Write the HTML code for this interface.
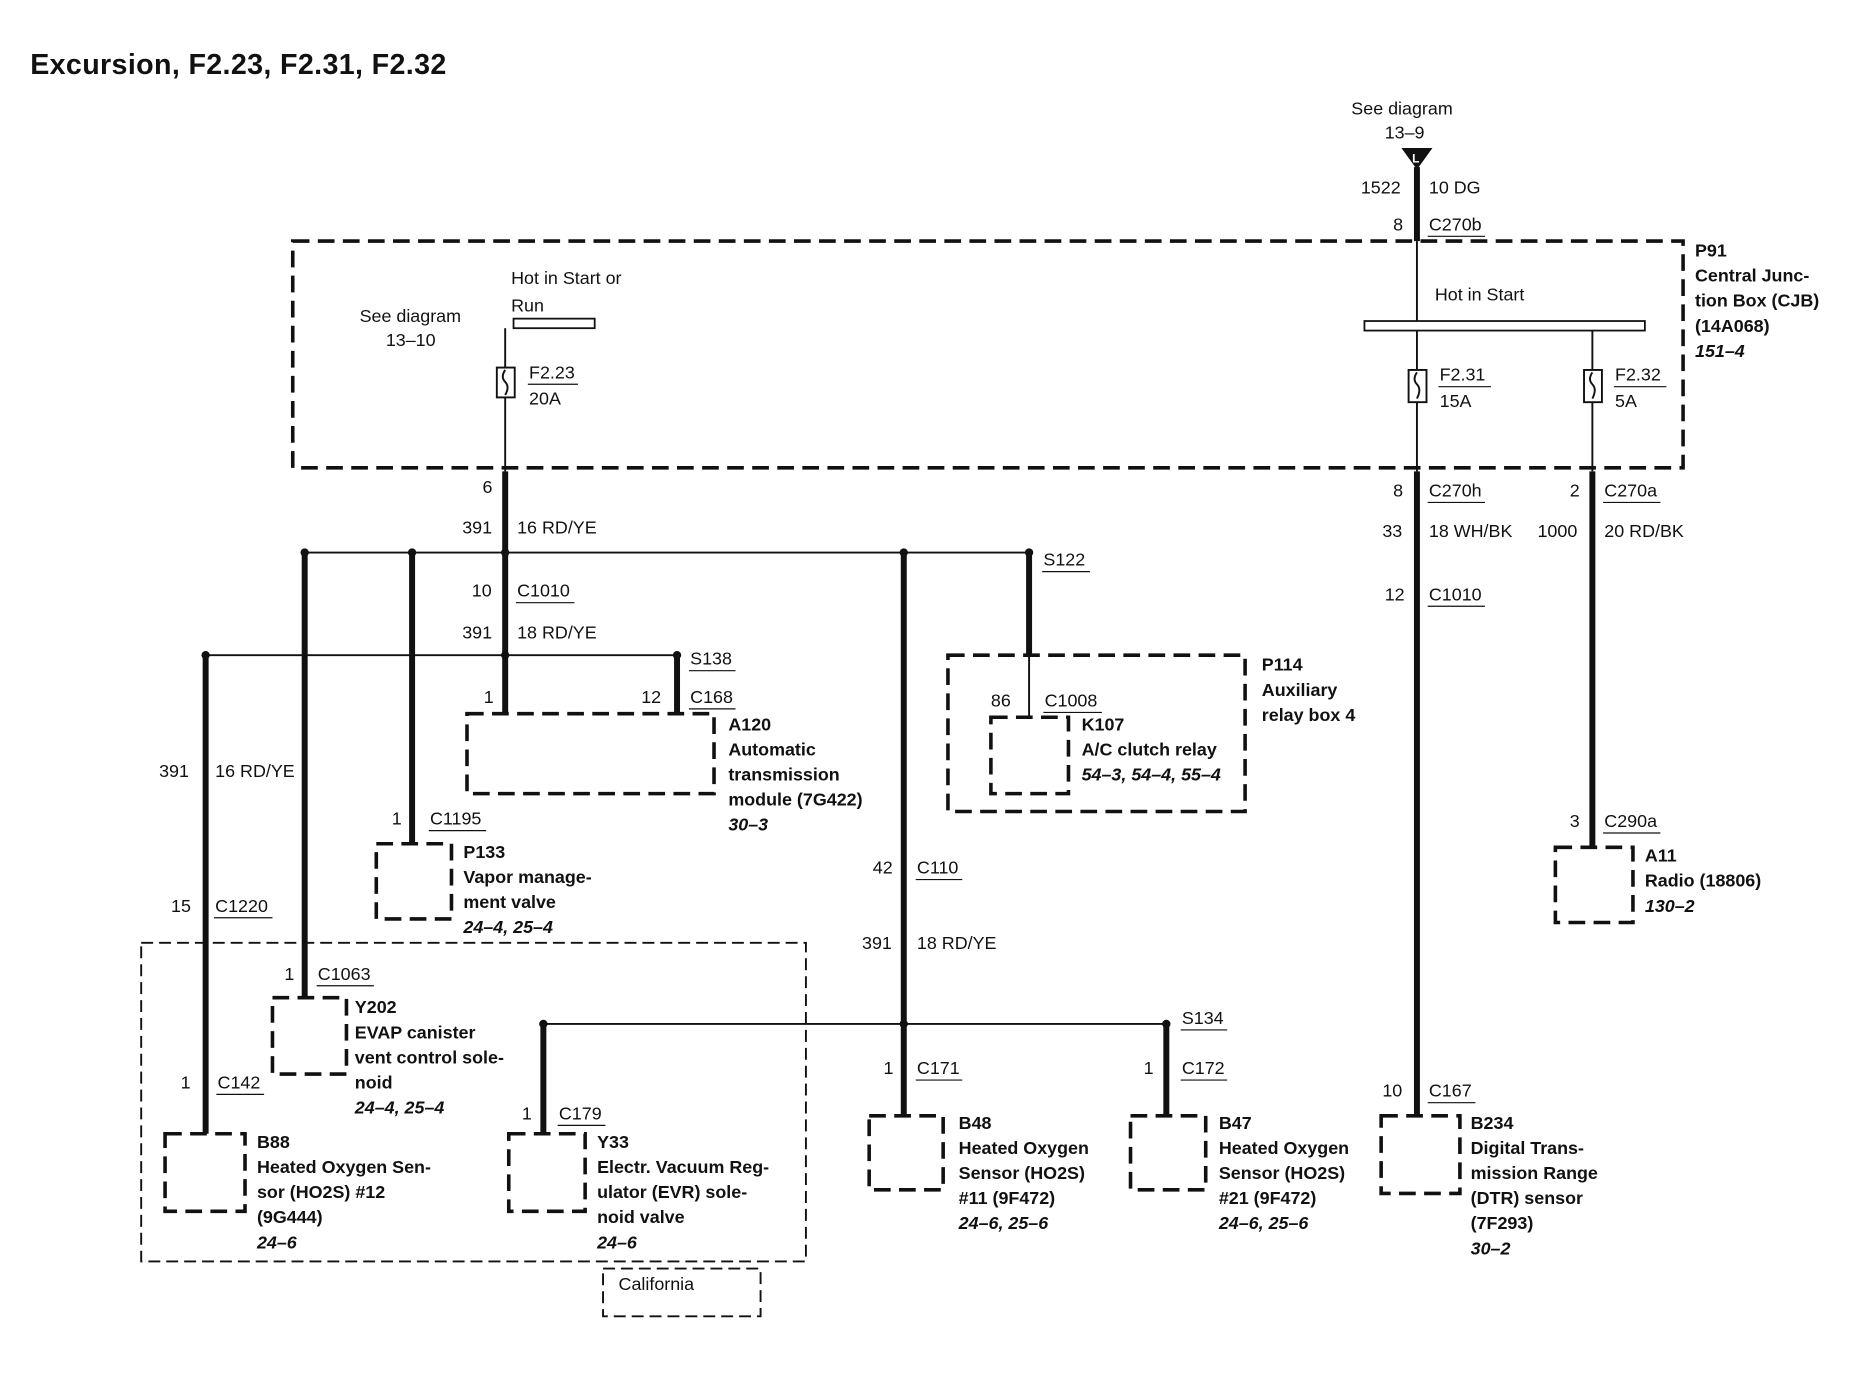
<!DOCTYPE html>
<html><head><style>html,body{margin:0;padding:0;background:#fff}svg{display:block}
text{font-family:"Liberation Sans",Arial,sans-serif;font-size:15px;fill:#111}
.b{font-weight:bold}.i{font-style:italic;font-weight:bold}
.t{stroke:#111;stroke-width:5;fill:none}.n{stroke:#111;stroke-width:1.6;fill:none}
.d{stroke:#111;stroke-width:3;fill:none;stroke-dasharray:14 7}
.d2{stroke:#111;stroke-width:1.6;fill:none;stroke-dasharray:10 5}
</style></head><body>
<svg width="1872" height="1376" viewBox="0 0 1568 1153" xmlns="http://www.w3.org/2000/svg">
<text x="25" y="62" class="b" style="font-size:24px;letter-spacing:0.3px">Excursion, F2.23, F2.31, F2.32</text>
<!-- top feed -->
<text x="1132" y="96">See diagram</text><text x="1160" y="116">13–9</text>
<polygon points="1174,124 1200,124 1187,142" fill="#111"/>
<text x="1183" y="136" style="font-size:10px;fill:#fff" class="b">L</text>
<line class="t" x1="1187" y1="140" x2="1187" y2="202"/>
<text x="1140" y="162">1522</text><text x="1197" y="162">10 DG</text>
<text x="1167" y="193">8</text><text x="1197" y="193">C270b</text><line class="n" x1="1196" y1="198" x2="1244" y2="198" style="stroke-width:1"/>
<!-- CJB box -->
<rect class="d" x="245" y="202" width="1165" height="190"/>
<text x="1420" y="215" class="b">P91</text><text x="1420" y="236" class="b">Central Junc-</text>
<text x="1420" y="257" class="b">tion Box (CJB)</text><text x="1420" y="278" class="b">(14A068)</text><text x="1420" y="299" class="i">151–4</text>
<!-- left bus -->
<rect x="430" y="267" width="68" height="8" fill="#fff" stroke="#111" stroke-width="1.5"/>
<text x="428" y="238">Hot in Start or</text><text x="428" y="261">Run</text>
<text x="301" y="270">See diagram</text><text x="323" y="290">13–10</text>
<line class="n" x1="423" y1="275" x2="423" y2="308"/>
<rect x="416" y="308" width="15" height="25" fill="#fff" stroke="#111" stroke-width="1.6"/>
<path d="M423,310 q-4,6 0,10 q4,4 0,11" class="n"/>
<text x="443" y="317">F2.23</text><line x1="442" y1="322" x2="484" y2="322" stroke="#111"/><text x="443" y="339">20A</text>
<line class="n" x1="423" y1="333" x2="423" y2="395"/>
<!-- right bus -->
<line class="n" x1="1187" y1="202" x2="1187" y2="269"/>
<text x="1202" y="252">Hot in Start</text>
<rect x="1143" y="269" width="235" height="8" fill="#fff" stroke="#111" stroke-width="1.5"/>
<line class="n" x1="1187" y1="277" x2="1187" y2="310"/><line class="n" x1="1334" y1="277" x2="1334" y2="310"/>
<rect x="1180" y="310" width="15" height="27" fill="#fff" stroke="#111" stroke-width="1.6"/>
<path d="M1187,312 q-4,6 0,10 q4,4 0,12" class="n"/>
<rect x="1327" y="310" width="15" height="27" fill="#fff" stroke="#111" stroke-width="1.6"/>
<path d="M1334,312 q-4,6 0,10 q4,4 0,12" class="n"/>
<text x="1206" y="319">F2.31</text><line x1="1205" y1="324" x2="1249" y2="324" stroke="#111"/><text x="1206" y="341">15A</text>
<text x="1353" y="319">F2.32</text><line x1="1352" y1="324" x2="1396" y2="324" stroke="#111"/><text x="1353" y="341">5A</text>
<line class="n" x1="1187" y1="337" x2="1187" y2="395"/><line class="n" x1="1334" y1="337" x2="1334" y2="395"/>
<!-- left trunk -->
<line class="t" x1="423" y1="395" x2="423" y2="598"/>
<text x="404" y="413">6</text><text x="387" y="447">391</text><text x="433" y="447">16 RD/YE</text>
<text x="395" y="500">10</text><text x="433" y="500">C1010</text><line x1="432" y1="505" x2="481" y2="505" stroke="#111"/>
<text x="387" y="535">391</text><text x="433" y="535">18 RD/YE</text>
<line class="n" x1="255" y1="463" x2="862" y2="463"/>
<line class="n" x1="172" y1="549" x2="567" y2="549"/>
<g fill="#111"><circle cx="255" cy="463" r="3.5"/><circle cx="345" cy="463" r="3.5"/><circle cx="757" cy="463" r="3.5"/><circle cx="862" cy="463" r="3.5"/><circle cx="423" cy="463" r="3.5"/>
<circle cx="172" cy="549" r="3.5"/><circle cx="423" cy="549" r="3.5"/><circle cx="567" cy="549" r="3.5"/><circle cx="757" cy="858" r="3.5"/><circle cx="455" cy="858" r="3.5"/><circle cx="977" cy="858" r="3.5"/></g>
<text x="578" y="557">S138</text><line x1="577" y1="562" x2="616" y2="562" stroke="#111"/>
<line class="t" x1="567" y1="549" x2="567" y2="598"/>
<text x="405" y="589">1</text><text x="537" y="589">12</text><text x="578" y="589">C168</text><line x1="577" y1="594" x2="616" y2="594" stroke="#111"/>
<rect class="d" x="391" y="598" width="207" height="67"/>
<text x="610" y="612" class="b">A120</text><text x="610" y="633" class="b">Automatic</text><text x="610" y="654" class="b">transmission</text><text x="610" y="675" class="b">module (7G422)</text><text x="610" y="696" class="i">30–3</text>
<!-- x=345 -->
<line class="t" x1="345" y1="463" x2="345" y2="707"/>
<text x="328" y="691">1</text><text x="360" y="691">C1195</text><line x1="359" y1="696" x2="407" y2="696" stroke="#111"/>
<rect class="d" x="315" y="707" width="63" height="63"/>
<text x="388" y="719" class="b">P133</text><text x="388" y="740" class="b">Vapor manage-</text><text x="388" y="761" class="b">ment valve</text><text x="388" y="782" class="i">24–4, 25–4</text>
<!-- x=255 -->
<line class="t" x1="255" y1="463" x2="255" y2="836"/>
<text x="238" y="821">1</text><text x="266" y="821">C1063</text><line x1="265" y1="826" x2="313" y2="826" stroke="#111"/>
<rect class="d" x="228" y="836" width="62" height="64"/>
<text x="297" y="849" class="b">Y202</text><text x="297" y="870" class="b">EVAP canister</text><text x="297" y="891" class="b">vent control sole-</text><text x="297" y="912" class="b">noid</text><text x="297" y="933" class="i">24–4, 25–4</text>
<!-- x=172 -->
<line class="t" x1="172" y1="549" x2="172" y2="950"/>
<text x="133" y="651">391</text><text x="180" y="651">16 RD/YE</text>
<text x="143" y="764">15</text><text x="180" y="764">C1220</text><line x1="179" y1="769" x2="228" y2="769" stroke="#111"/>
<text x="151" y="912">1</text><text x="182" y="912">C142</text><line x1="181" y1="917" x2="221" y2="917" stroke="#111"/>
<rect class="d" x="138" y="950" width="67" height="65"/>
<text x="215" y="962" class="b">B88</text><text x="215" y="983" class="b">Heated Oxygen Sen-</text><text x="215" y="1004" class="b">sor (HO2S) #12</text><text x="215" y="1025" class="b">(9G444)</text><text x="215" y="1046" class="i">24–6</text>
<!-- California -->
<rect class="d2" x="118" y="790" width="557" height="267"/>
<rect class="d2" x="505" y="1063" width="132" height="40"/>
<text x="518" y="1081">California</text>
<!-- x=455 -->
<line class="n" x1="455" y1="858" x2="977" y2="858"/>
<line class="t" x1="455" y1="858" x2="455" y2="950"/>
<text x="437" y="938">1</text><text x="468" y="938">C179</text><line x1="467" y1="943" x2="507" y2="943" stroke="#111"/>
<rect class="d" x="426" y="950" width="64" height="65"/>
<text x="500" y="962" class="b">Y33</text><text x="500" y="983" class="b">Electr. Vacuum Reg-</text><text x="500" y="1004" class="b">ulator (EVR) sole-</text><text x="500" y="1025" class="b">noid valve</text><text x="500" y="1046" class="i">24–6</text>
<!-- x=757 -->
<line class="t" x1="757" y1="463" x2="757" y2="935"/>
<text x="731" y="732">42</text><text x="768" y="732">C110</text><line x1="767" y1="737" x2="806" y2="737" stroke="#111"/>
<text x="722" y="795">391</text><text x="768" y="795">18 RD/YE</text>
<text x="740" y="900">1</text><text x="768" y="900">C171</text><line x1="767" y1="905" x2="806" y2="905" stroke="#111"/>
<rect class="d" x="728" y="935" width="62" height="62"/>
<text x="803" y="946" class="b">B48</text><text x="803" y="967" class="b">Heated Oxygen</text><text x="803" y="988" class="b">Sensor (HO2S)</text><text x="803" y="1009" class="b">#11 (9F472)</text><text x="803" y="1030" class="i">24–6, 25–6</text>
<!-- x=977 -->
<line class="t" x1="977" y1="858" x2="977" y2="935"/>
<text x="990" y="858">S134</text><line x1="989" y1="863" x2="1028" y2="863" stroke="#111"/>
<text x="958" y="900">1</text><text x="990" y="900">C172</text><line x1="989" y1="905" x2="1028" y2="905" stroke="#111"/>
<rect class="d" x="947" y="935" width="63" height="62"/>
<text x="1021" y="946" class="b">B47</text><text x="1021" y="967" class="b">Heated Oxygen</text><text x="1021" y="988" class="b">Sensor (HO2S)</text><text x="1021" y="1009" class="b">#21 (9F472)</text><text x="1021" y="1030" class="i">24–6, 25–6</text>
<!-- x=862 -->
<line class="t" x1="862" y1="463" x2="862" y2="549"/>
<line class="n" x1="862" y1="549" x2="862" y2="601"/>
<text x="874" y="474">S122</text><line x1="873" y1="479" x2="913" y2="479" stroke="#111"/>
<rect class="d" x="794" y="549" width="249" height="131"/>
<text x="830" y="592">86</text><text x="875" y="592">C1008</text><line x1="874" y1="597" x2="923" y2="597" stroke="#111"/>
<rect class="d" x="830" y="601" width="65" height="64"/>
<text x="906" y="612" class="b">K107</text><text x="906" y="633" class="b">A/C clutch relay</text><text x="906" y="654" class="i">54–3, 54–4, 55–4</text>
<text x="1057" y="562" class="b">P114</text><text x="1057" y="583" class="b">Auxiliary</text><text x="1057" y="604" class="b">relay box 4</text>
<!-- x=1187 -->
<line class="t" x1="1187" y1="395" x2="1187" y2="935"/>
<text x="1167" y="416">8</text><text x="1197" y="416">C270h</text><line x1="1196" y1="421" x2="1244" y2="421" stroke="#111"/>
<text x="1158" y="450">33</text><text x="1197" y="450">18 WH/BK</text>
<text x="1160" y="503">12</text><text x="1197" y="503">C1010</text><line x1="1196" y1="508" x2="1244" y2="508" stroke="#111"/>
<text x="1158" y="919">10</text><text x="1197" y="919">C167</text><line x1="1196" y1="924" x2="1236" y2="924" stroke="#111"/>
<rect class="d" x="1157" y="935" width="66" height="65"/>
<text x="1232" y="946" class="b">B234</text><text x="1232" y="967" class="b">Digital Trans-</text><text x="1232" y="988" class="b">mission Range</text><text x="1232" y="1009" class="b">(DTR) sensor</text><text x="1232" y="1030" class="b">(7F293)</text><text x="1232" y="1051" class="i">30–2</text>
<!-- x=1334 -->
<line class="t" x1="1334" y1="395" x2="1334" y2="710"/>
<text x="1315" y="416">2</text><text x="1344" y="416">C270a</text><line x1="1343" y1="421" x2="1391" y2="421" stroke="#111"/>
<text x="1288" y="450">1000</text><text x="1344" y="450">20 RD/BK</text>
<text x="1315" y="693">3</text><text x="1344" y="693">C290a</text><line x1="1343" y1="698" x2="1391" y2="698" stroke="#111"/>
<rect class="d" x="1303" y="710" width="65" height="63"/>
<text x="1378" y="722" class="b">A11</text><text x="1378" y="743" class="b">Radio (18806)</text><text x="1378" y="764" class="i">130–2</text>
</svg>
</body></html>
